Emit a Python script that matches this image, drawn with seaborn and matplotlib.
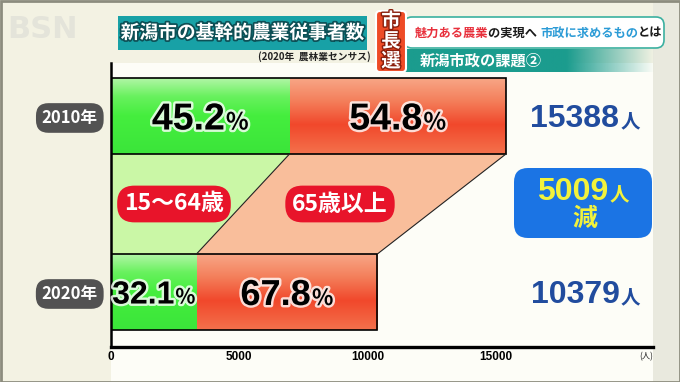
import matplotlib
matplotlib.use("Agg")
import matplotlib.pyplot as plt
from matplotlib import patches, transforms
from matplotlib import patheffects as pe
from matplotlib.colors import LinearSegmentedColormap, to_rgb
import numpy as np
import seaborn as sns

years = ["2010年", "2020年"]
totals = np.array([15388, 10379])
young_pct = np.array([45.2, 32.1])
old_pct = np.array([54.8, 67.8])
young = totals * young_pct / 100
decrease = 5009
x_ticks = [0, 5000, 10000, 15000]
age_groups = ["15～64歳", "65歳以上"]

title = "新潟市の基幹的農業従事者数"
source = "(2020年  農林業センサス)"
badge = "市長選"
banner = [("魅力ある農業", "#e8303c"), ("の実現へ ", "#1a1a1a"),
          ("市政に求めるもの", "#2b9bd6"), ("とは", "#1a1a1a")]
subtitle = "新潟市政の課題②"

sns.set_theme(style="white")
plt.rcParams["font.family"] = ["Noto Sans CJK JP", "DejaVu Sans"]
NUM_FONT = ["Liberation Sans", "Noto Sans CJK JP"]

W, H = 680, 382
fig = plt.figure(figsize=(W / 100, H / 100), dpi=100, facecolor="#f3f2e3")
renderer = fig.canvas.get_renderer()

# panel behind the chart
fig.add_artist(patches.Rectangle((111 / W, 0), 542 / W, (H - 63) / H,
                                 transform=fig.transFigure, fc="#fdfdf7",
                                 ec="none", zorder=-1))
fig.add_artist(patches.Rectangle((653 / W, 0), 27 / W, 1, transform=fig.transFigure,
                                 fc="#e9e9de", ec="none", zorder=-1))

ax = fig.add_axes([111 / W, (H - 347) / H, 542 / W, 284 / H], zorder=1)
ax.patch.set_alpha(0)

bar_h = 0.432
green_cmap = LinearSegmentedColormap.from_list(
    "g", [(0, "#b6f6aa"), (0.25, "#68f15e"), (0.5, "#45ee3e"), (1, "#3be53a")])
red_cmap = LinearSegmentedColormap.from_list(
    "r", [(0, "#f8a888"), (0.3, "#f4805c"), (0.62, "#f1482b"), (1, "#f4714c")])

sns.barplot(x=totals, y=years, orient="y", color="#f1482b", width=bar_h,
            edgecolor="black", linewidth=1.2, errorbar=None, ax=ax)
n_tot = len(ax.patches)
sns.barplot(x=young, y=years, orient="y", color="#45ee3e", width=bar_h,
            linewidth=0, errorbar=None, ax=ax)

grad = np.linspace(0, 1, 128).reshape(-1, 1)
for i, p in enumerate(ax.patches):
    x0, y0, w, h = p.get_x(), p.get_y(), p.get_width(), p.get_height()
    cmap = red_cmap if i < n_tot else green_cmap
    im = ax.imshow(grad, cmap=cmap, aspect="auto", origin="upper",
                   extent=(x0, x0 + w, y0 + h, y0), zorder=2 + (i >= n_tot) * 0.5)
    im.set_clip_path(p)
    p.set_facecolor("none")
    p.set_zorder(3)

# connector between the two years
top_y = 0 + bar_h / 2
bot_y = 1 - bar_h / 2
ax.fill([0, young[0], young[1], 0], [top_y, top_y, bot_y, bot_y],
        color="#caf7a6", lw=0, zorder=1)
ax.fill([young[0], totals[0], totals[1], young[1]], [top_y, top_y, bot_y, bot_y],
        color="#f9be9b", lw=0, zorder=1)
ax.plot([young[0], young[1]], [top_y, bot_y], color="#222", lw=0.8, zorder=3)
ax.plot([totals[0], totals[1]], [top_y, bot_y], color="#222", lw=0.8, zorder=3)

ax.set_xlim(0, 21117)
ax.set_ylim(1.3125, -0.301)
ax.set_xlabel("")
ax.set_ylabel("")
ax.set_xticks(x_ticks)
ax.set_xticklabels([str(v) for v in x_ticks], fontsize=8.5, fontweight="bold",
                   family=NUM_FONT)
ax.tick_params(axis="x", direction="in", length=3, width=1.2, pad=3, colors="black")
ax.tick_params(axis="y", length=0, pad=9.5)
for s in ["top", "right"]:
    ax.spines[s].set_visible(False)
ax.spines["left"].set_linewidth(1.8)
ax.spines["left"].set_color("black")
ax.spines["bottom"].set_linewidth(2.4)
ax.spines["bottom"].set_color("black")
for lab in ax.get_yticklabels():
    lab.set_fontsize(12)
    lab.set_fontweight("bold")
    lab.set_color("white")
    lab.set_bbox(dict(boxstyle="round,pad=0.35,rounding_size=0.75",
                      fc="#525252", ec="none"))


def pair(axis, x, y, big_text, small_text, big, small, color, transform,
         align="center", effects=(), gap=1):
    kw = dict(fontweight="bold", color=color, va="baseline", ha="left",
              path_effects=list(effects))
    t1 = axis.text(x, y, big_text, fontsize=big, transform=transform,
                   family=NUM_FONT, **kw)
    t2 = axis.text(x, y, small_text, fontsize=small, transform=transform, **kw)
    w1 = t1.get_window_extent(renderer).width
    w2 = t2.get_window_extent(renderer).width
    total = w1 + gap + w2
    start = -total / 2 if align == "center" else -total
    dy = -0.36 * big * fig.dpi / 72
    t1.set_transform(transforms.offset_copy(transform, fig=fig, x=start, y=dy, units="dots"))
    t2.set_transform(transforms.offset_copy(transform, fig=fig, x=start + w1 + gap,
                                            y=dy, units="dots"))


glow = [pe.withStroke(linewidth=3.5, foreground="white", alpha=0.8)]
sizes = [(27, 17), (23, 15)]
for i in range(len(years)):
    big, small = sizes[i]
    pair(ax, young[i] / 2, i, f"{young_pct[i]:.1f}", "%", big, small, "black",
         ax.transData, effects=glow)
    pair(ax, (young[i] + totals[i]) / 2, i, f"{old_pct[i]:.1f}", "%",
         big if i == 0 else 26, small if i == 0 else 16, "black",
         ax.transData, effects=glow)
    blend = transforms.blended_transform_factory(ax.transAxes, ax.transData)
    pair(ax, 0.976, i, f"{totals[i]}", "人", 23, 14, "#214c9e", blend, align="right")

# overlay in pixel units for the broadcast decorations
ov = fig.add_axes([0, 0, 1, 1], zorder=5)
ov.patch.set_alpha(0)
ov.axis("off")

ov.text(646, 357, "(人)", fontsize=6, ha="center", va="center", color="#222")

# age group pills
pill_x = [174, 340]
for label, px in zip(age_groups, pill_x):
    ov.text(px, 204, label, fontsize=16.5, fontweight="bold", color="white",
            ha="center", va="center",
            bbox=dict(boxstyle="round,pad=0.3,rounding_size=0.75", fc="#e8142a", ec="none"))

# decrease box
ov.add_patch(patches.FancyBboxPatch((514, 168), 138, 70,
                                    boxstyle="round,pad=0,rounding_size=14",
                                    fc="#1b74e4", ec="none"))
pair(ov, 583, 189, f"{decrease}", "人", 23, 14, "#f2f23c", ov.transData)
ov.text(585, 219, "減", fontsize=18, fontweight="bold", color="#f2f23c",
        ha="center", va="center")

# header
ov.text(42, 30, "BSN", fontsize=22, fontweight="bold", color="#e4e4da",
        ha="center", va="center", family="DejaVu Sans")
ov.add_patch(patches.Rectangle((118, 16), 249, 34, fc="#18a1a6", ec="none"))
ov.text(242.5, 33, title, fontsize=13.5, fontweight="bold", color="white",
        ha="center", va="center",
        path_effects=[pe.withStroke(linewidth=2.5, foreground="#0d4f55")])
ov.text(314, 57, source, fontsize=7, fontweight="bold", color="#222",
        ha="center", va="center")

teal = to_rgb("#1b9c8e")
tpos = np.linspace(0, 1, 256)
fade = np.zeros((1, 256, 4))
fade[..., :3] = teal
fade[..., 3] = np.clip((1 - tpos) / 0.35, 0, 1)
ov.imshow(fade, extent=(404, 655, 72, 49), aspect="auto", zorder=1)
ov.add_patch(patches.FancyBboxPatch((404, 17), 260, 31,
                                    boxstyle="round,pad=0,rounding_size=8",
                                    fc="white", ec="#3bb0a0", lw=1.2, zorder=2))
x = 415
for text, color in banner:
    t = ov.text(x, 33, text, fontsize=8.8, fontweight="bold", color=color,
                ha="left", va="center", zorder=3)
    x += t.get_window_extent(renderer).width
ov.text(420, 61, subtitle, fontsize=11, fontweight="bold", color="white",
        ha="left", va="center", zorder=3)

ov.add_patch(patches.FancyBboxPatch((376, 11), 30, 61,
                                    boxstyle="round,pad=0,rounding_size=4",
                                    fc="#ee4b26", ec="white", lw=1.5, zorder=4))
for k, ch in enumerate(badge):
    ov.text(391, 21.5 + 20 * k, ch, fontsize=14, fontweight="bold", color="white",
            ha="center", va="center", zorder=5,
            path_effects=[pe.withStroke(linewidth=2, foreground="#8a1e0c")])

ov.add_patch(patches.Rectangle((0.5, 0.5), W - 1, H - 1, fill=False,
                               ec="#8c8c7e", lw=2, zorder=6))
ov.set_xlim(0, W)
ov.set_ylim(H, 0)

fig.savefig("out.png", dpi=100, facecolor=fig.get_facecolor())
